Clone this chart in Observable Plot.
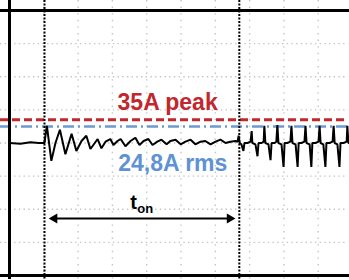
<!DOCTYPE html>
<html><head><meta charset="utf-8">
<script src="https://cdn.jsdelivr.net/npm/d3@7"></script>
<script src="https://cdn.jsdelivr.net/npm/@observablehq/plot@0.6"></script>
<style>body{margin:0;background:#fff;} #chart svg{display:block;}</style>
</head><body><div id="chart"></div>
<script>
// time in 1/10 division units (10 divisions on screen), current in A (50 A/div)
const waveT = [0,3.2,6.1,8.5,10.2,10.5,10.9,12.2,13.4,14.7,16.3,18.1,19.5,21.0,22.4,23.6,25.7,26.8,28.0,29.4,
  30.3,31.5,32.4,33.8,35.3,36.7,37.9,39.1,40.5,41.7,43.1,44.3,45.8,46.9,48.4,49.9,51.3,52.8,54.2,55.7,
  57.1,58.6,60.1,61.5,63.0,64.4,65.9,66.5,
  66.8,67.1,67.6,68.2,68.5,
  69.4,70.3,70.6,70.8,71.7,72.3,72.6,
  73.5,74.1,74.3,74.6,75.5,76.1,76.4,
  77.3,77.8,78.1,78.4,79.3,79.9,80.2,
  81.0,81.9,82.2,82.5,83.4,84.0,84.3,
  85.1,86.0,86.3,86.6,87.5,88.0,88.3,
  89.2,90.1,90.4,90.7,91.5,92.1,92.4,
  93.3,94.2,94.5,94.8,95.6,96.2,96.5,
  97.4,98.3,98.5,98.8,100];
const waveI = [0,-1,1,0,0,12,26,-27,0,20,-17,14,-12,3,11,-9,6,-8,2,6,
  -3,3,6,-5,3,8,-3,3,6,-3,2,5,-2,3,5,-2,2,5,-2,2,
  3,-2,2,5,0,2,3,2,
  11,0,-2,-12,0,
  0,2,18,0,-2,-20,0,
  0,2,26,0,-2,-26,0,
  0,2,27,0,-2,-36,0,
  0,2,26,0,-2,-36,0,
  0,2,26,0,-2,-36,0,
  0,2,26,0,-2,-36,0,
  0,2,26,0,-2,-36,0,
  0,2,26,0,0];
const gridT = [10,20,30,40,50,60,70,80,90];
const gridI = [-150,-100,-50,0,50,100,150];
const peakA = 35;
const rmsA = 24.8;
const tonMarks = [10.2, 67.0];
const peakLabel = "35A peak";
const rmsLabel = "24,8A rms";

const wave = waveT.map((t, k) => ({t, i: waveI[k]}));
const font = "Liberation Sans, Arial, Helvetica, sans-serif";

const chart = Plot.plot({
  width: 349, height: 280,
  x: {domain: [0, 100], range: [9, 352], axis: null},
  y: {domain: [-200, 200], range: [275, 10], axis: null},
  style: {background: "#fff", fontFamily: font},
  marks: [
    Plot.ruleX(gridT, {stroke: "#c4c4c4", strokeWidth: 1.4, strokeDasharray: "1.4,5.2"}),
    Plot.ruleY(gridI, {stroke: "#c4c4c4", strokeWidth: 1.4, strokeDasharray: "1.4,3.3"}),
    Plot.ruleY([peakA], {stroke: "#c0282d", strokeWidth: 3, strokeDasharray: "8,4"}),
    Plot.ruleY([rmsA], {stroke: "#6b9bd2", strokeWidth: 2.5, strokeDasharray: "11,4,2,4"}),
    Plot.line(wave, {x: "t", y: "i", stroke: "#000", strokeWidth: 2, strokeLinejoin: "miter"}),
    Plot.ruleX(tonMarks, {stroke: "#000", strokeWidth: 2, strokeDasharray: "2,1.5"}),
    Plot.ruleX([0], {stroke: "#000", strokeWidth: 3}),
    Plot.ruleY([200, -200], {stroke: "#000", strokeWidth: 3, strokeLinecap: "square"}),
    Plot.text([{t: 31.5, i: 50}], {x: "t", y: "i", text: () => peakLabel, textAnchor: "start", lineAnchor: "bottom",
      fill: "#c1272d", fontSize: 23, fontWeight: "bold"}),
    Plot.text([{t: 31.7, i: -43}], {x: "t", y: "i", text: () => rmsLabel, textAnchor: "start", lineAnchor: "bottom",
      fill: "#5e92d4", fontSize: 23, fontWeight: "bold"}),
    Plot.ruleY([-114], {x1: 12.5, x2: 65, stroke: "#000", strokeWidth: 2}),
    Plot.dot([{t: 13.1, i: -114, a: -90}, {t: 64.2, i: -114, a: 90}], {x: "t", y: "i", rotate: "a",
      symbol: "triangle", r: 3.7, fill: "#000", stroke: "none"}),
    Plot.text([{t: 35.2, i: -99}], {x: "t", y: "i", text: () => "t", textAnchor: "start", lineAnchor: "bottom",
      fill: "#000", fontSize: 20, fontWeight: "bold"}),
    Plot.text([{t: 35.2, i: -99}], {x: "t", y: "i", text: () => "on", textAnchor: "start", lineAnchor: "bottom",
      dx: 7, dy: 4, fill: "#000", fontSize: 13, fontWeight: "bold"})
  ]
});
document.getElementById("chart").appendChild(chart);
</script>
</body></html>
